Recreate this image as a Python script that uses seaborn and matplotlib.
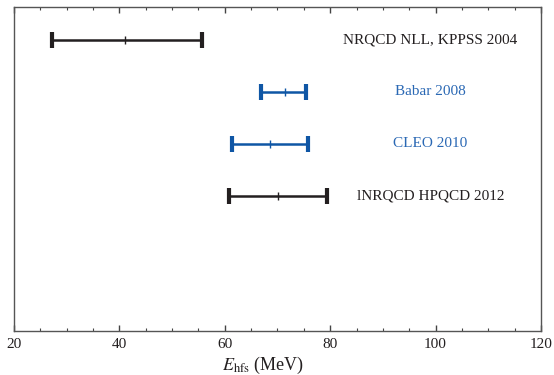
import matplotlib
matplotlib.use("Agg")
import matplotlib.pyplot as plt
from matplotlib.ticker import MultipleLocator
import seaborn as sns
import pandas as pd

# Hyperfine splitting determinations (MeV)
labels = ["NRQCD NLL, KPPSS 2004", "Babar 2008", "CLEO 2010", "lNRQCD HPQCD 2012"]
centers = [41.1, 71.5, 68.5, 70.1]
lows = [27.3, 66.8, 61.4, 60.8]
highs = [55.7, 75.4, 75.8, 79.4]
kinds = ["theory", "experiment", "experiment", "theory"]
rows = [5.6, 4.6, 3.6, 2.6]

df = pd.DataFrame({"label": labels, "center": centers, "low": lows,
                   "high": highs, "kind": kinds, "row": rows})

sns.set_style("ticks")
plt.rcParams["font.family"] = ["Liberation Serif", "DejaVu Serif"]
plt.rcParams["mathtext.fontset"] = "stix"

palette = {"theory": "#231f20", "experiment": "#0f56a5"}
text_palette = {"theory": "#231f20", "experiment": "#2a68b4"}

fig = plt.figure(figsize=(5.54, 3.75), dpi=100)
ax = fig.add_axes([0.0253, 0.1173, 0.9512, 0.8640])

for _, r in df.iterrows():
    c = palette[r["kind"]]
    ax.errorbar(r["center"], r["row"],
                xerr=[[r["center"] - r["low"]], [r["high"] - r["center"]]],
                fmt="none", ecolor=c, elinewidth=1.8, capsize=5.5, capthick=3)
    ax.text(99.0, r["row"], r["label"], ha="center", va="center",
            fontsize=11, color=text_palette[r["kind"]])

sns.scatterplot(data=df, x="center", y="row", hue="kind", palette=palette,
                marker="|", s=36, linewidth=1.0, legend=False, ax=ax, zorder=5)

ax.set_xlim(20, 120)
ax.set_ylim(0, 6.23)
ax.set_yticks([])
ax.set_ylabel("")
ax.xaxis.set_major_locator(MultipleLocator(20))
ax.xaxis.set_minor_locator(MultipleLocator(5))
ax.tick_params(axis="x", which="both", direction="in", top=True, bottom=True,
               colors="#444444", labelcolor="#231f20", labelsize=11, pad=5)
ax.tick_params(axis="x", which="major", length=4, width=1)
ax.tick_params(axis="x", which="minor", length=2.5, width=0.8)
for s in ax.spines.values():
    s.set_color("#555555")
    s.set_linewidth(1.0)

ax.set_xlabel(r"$E_{\mathrm{hfs}}$ (MeV)", fontsize=13, color="#231f20", labelpad=3)
ax.xaxis.set_label_coords(0.4715, -0.075)

fig.savefig("out.png", dpi=100)
